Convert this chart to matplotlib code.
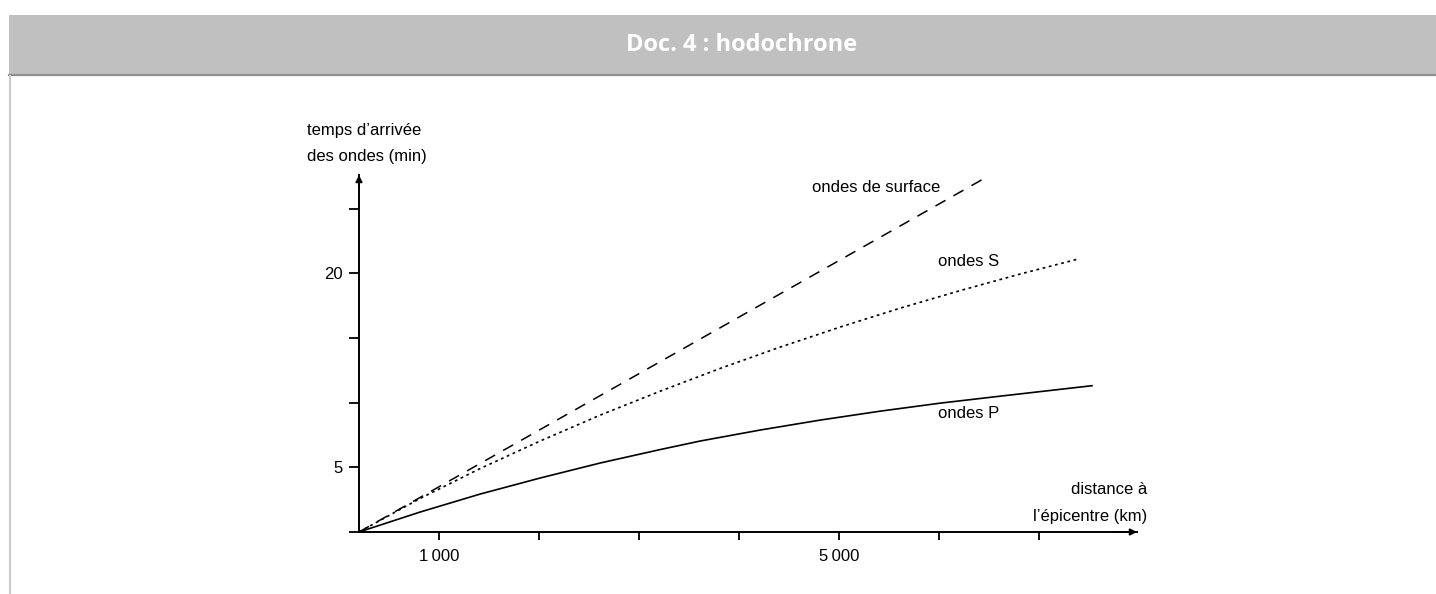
"""Doc. 4 : hodochrone — arrival time of seismic waves vs epicentral distance."""

import matplotlib
matplotlib.use("Agg")
import matplotlib.pyplot as plt
from matplotlib.patches import Rectangle
from matplotlib.lines import Line2D

plt.rcParams["font.family"] = ["Liberation Sans", "DejaVu Sans"]
plt.rcParams["lines.scale_dashes"] = False

W, H = 1436, 594
HEADER = "#bfc0bf"
HEADER_EDGE = "#8e8e8e"
BORDER = "#c9c9c9"

# distances (km) and arrival times (min)
dist_surface = [200, 6490]
time_surface = [0, 27.5]

dist_s = [200, 810, 1410, 2010, 2610, 3210, 3810, 4410, 5010, 5610, 6210, 6810, 7390]
time_s = [0, 2.59, 4.90, 7.03, 9.03, 10.88, 12.64, 14.29, 15.84, 17.30, 18.66, 19.94, 21.10]

dist_p = [200, 810, 1410, 2010, 2610, 3210, 3610, 4210, 4810, 5410, 6010, 6610, 7110, 7530]
time_p = [0, 1.54, 2.93, 4.17, 5.33, 6.37, 7.03, 7.88, 8.65, 9.34, 9.96, 10.50, 10.94, 11.31]

x_ticks = [1000, 2000, 3000, 4000, 5000, 6000, 7000]
x_labels = ["1\u2009000", "", "", "", "5\u2009000", "", ""]
y_ticks = [0, 5, 10, 15, 20, 25]
y_labels = ["", "5", "", "", "20", ""]

fig = plt.figure(figsize=(W / 100, H / 100), dpi=100)


def fx(px):
    return px / W


def fy(py):
    return 1 - py / H


# header band + left border
fig.add_artist(Rectangle((fx(9), fy(74)), fx(W - 9), 59 / H, transform=fig.transFigure,
                         facecolor=HEADER, edgecolor="none"))
fig.add_artist(Line2D([fx(9), 1], [fy(75), fy(75)], transform=fig.transFigure,
                      color=HEADER_EDGE, lw=1.6))
fig.add_artist(Line2D([fx(10), fx(10)], [fy(76), 0], transform=fig.transFigure,
                      color=BORDER, lw=1.5))
fig.text(fx(742), fy(45), "Doc. 4 : hodochrone", ha="center", va="center",
         color="white", fontsize=17, fontweight="bold", family=["Open Sans", "DejaVu Sans"])

# axes: origin at (359, 532) px, arrows end at x=1137 and y=175
ax = fig.add_axes([fx(359), fy(532), (1137 - 359) / W, (532 - 175) / H])
ax.set_xlim(200, 7980)
ax.set_ylim(0, 27.6)

ax.plot(dist_surface, time_surface, color="black", lw=1.1, dashes=(8.3, 6.6))
ax.plot(dist_s, time_s, color="black", lw=1.2, dashes=(2.0, 2.6))
ax.plot(dist_p, time_p, color="black", lw=1.2)

for side in ["top", "right"]:
    ax.spines[side].set_visible(False)
for side in ["left", "bottom"]:
    ax.spines[side].set_linewidth(1.4)

ax.set_xticks(x_ticks)
ax.set_xticklabels(x_labels, fontsize=12)
ax.set_yticks(y_ticks)
ax.set_yticklabels(y_labels, fontsize=12)
ax.tick_params(axis="x", direction="out", length=6, width=1.3, pad=6)
ax.tick_params(axis="y", direction="out", length=7.5, width=1.3, pad=4)

# arrow heads
ax.annotate("", xy=(0, 1.0), xytext=(0, 0.96), xycoords="axes fraction",
            arrowprops=dict(arrowstyle="-|>", color="black", lw=1.2, mutation_scale=10,
                            shrinkA=0, shrinkB=0))
ax.annotate("", xy=(1.0, 0), xytext=(0.97, 0), xycoords="axes fraction",
            arrowprops=dict(arrowstyle="-|>", color="black", lw=1.2, mutation_scale=10,
                            shrinkA=0, shrinkB=0))

# axis titles and curve labels
fs = 12
fig.text(fx(307), fy(130), "temps d’arrivée", ha="left", va="center", fontsize=fs)
fig.text(fx(307), fy(157), "des ondes (min)", ha="left", va="center", fontsize=fs)
fig.text(fx(1147), fy(490), "distance à", ha="right", va="center", fontsize=fs)
fig.text(fx(1147), fy(517), "l’épicentre (km)", ha="right", va="center", fontsize=fs)
fig.text(fx(812), fy(187), "ondes de surface", ha="left", va="center", fontsize=fs)
fig.text(fx(938), fy(261), "ondes S", ha="left", va="center", fontsize=fs)
fig.text(fx(938), fy(413), "ondes P", ha="left", va="center", fontsize=fs)

fig.savefig("out.png", dpi=100, facecolor="white")
